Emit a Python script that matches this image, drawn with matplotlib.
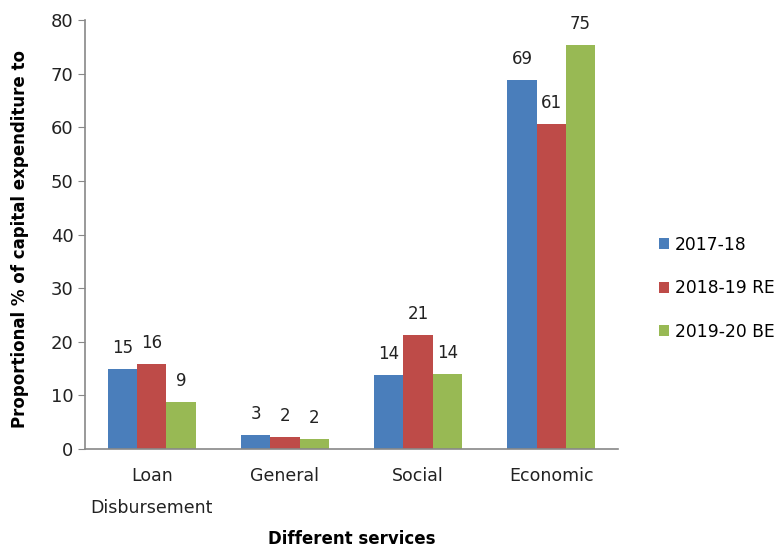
import matplotlib.pyplot as plt
import numpy as np

categories = ["Loan\nDisbursement", "General", "Social", "Economic"]
series_names = ["2017-18", "2018-19 RE", "2019-20 BE"]
vals_1718 = [14.9, 2.6, 13.8, 68.8]
vals_1819 = [15.9, 2.2, 21.3, 60.6]
vals_1920 = [8.8, 1.9, 14.0, 75.4]
colors = ["#4a7ebb", "#be4b48", "#98b954"]

fig = plt.figure(figsize=(7.81, 5.5), dpi=100)
ax = fig.add_axes([0.109, 0.1836, 0.682, 0.78])

x = np.arange(len(categories))
w = 0.22
for i, (vals, name, c) in enumerate(zip([vals_1718, vals_1819, vals_1920], series_names, colors)):
    bars = ax.bar(x + (i - 1) * w, vals, w, color=c, label=name)
    for b, v in zip(bars, vals):
        ax.text(b.get_x() + b.get_width() / 2, v + 2.2, f"{v:.0f}",
                ha="center", va="bottom", fontsize=12, color="#222222")

ax.set_xlim(-0.5, len(categories) - 0.5)
ax.set_ylim(0, 80)
ax.set_yticks(range(0, 81, 10))
ax.set_xticks(x)
ax.set_xticklabels(categories, fontsize=12.5, color="#222222", linespacing=2.0)
ax.tick_params(axis="x", length=0, pad=13)
ax.tick_params(axis="y", labelsize=13, colors="#222222", length=5, color="#888888")
for s in ["top", "right"]:
    ax.spines[s].set_visible(False)
for s in ["left", "bottom"]:
    ax.spines[s].set_color("#888888")
    ax.spines[s].set_linewidth(1.2)

ax.set_ylabel("Proportional % of capital expenditure to", fontsize=12, fontweight="bold")
ax.yaxis.set_label_coords(-0.106, 0.49)
ax.set_xlabel("Different services", fontsize=12, fontweight="bold")
ax.xaxis.set_label_coords(0.5, -0.188)

ax.legend(loc="center left", bbox_to_anchor=(1.065, 0.375), frameon=False, fontsize=12.3,
          handlelength=0.6, handleheight=0.6, handletextpad=0.3, labelspacing=1.5,
          borderaxespad=0)

fig.savefig("out.png", dpi=100)
